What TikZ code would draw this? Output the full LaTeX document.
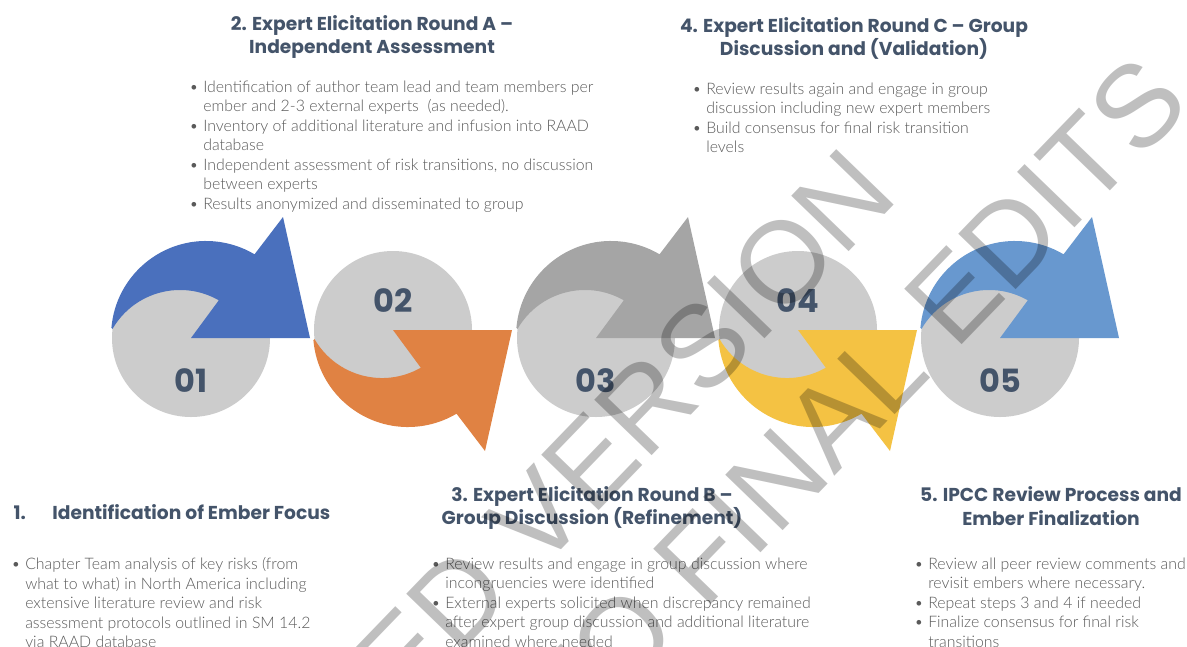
\documentclass[tikz,border=0pt]{standalone}
\usepackage{fontspec}
\usetikzlibrary{positioning}
\newfontfamily\headfont{Poppins}
\newfontfamily\bodyfont{Lato Light}
\newfontfamily\markfont{Liberation Sans}

\definecolor{discgray}{HTML}{CCCCCC}
\definecolor{ringblue}{HTML}{4A70BD}
\definecolor{ringorange}{HTML}{E08243}
\definecolor{ringgray}{HTML}{A5A5A5}
\definecolor{ringyellow}{HTML}{F4C243}
\definecolor{ringsky}{HTML}{6898CF}
\definecolor{heading}{HTML}{44546A}
\definecolor{bodytext}{HTML}{5A5A5A}

\newcommand{\bul}{\makebox[10.5pt][l]{\textbullet}}
\newcommand{\cont}{\hspace*{10.5pt}}
% ring arrow of one step, drawn round the disc centre (0,0)
\newcommand{\ringarrow}[1]{%
  \fill[#1] (-79.6,-10.3) arc[start angle=185, end angle=300.7, radius=95]
    -- (92,-121) -- (119,0) -- (0,0) -- (27.8,-37.7)
    arc[start angle=299.8, end angle=210.1, radius=78] -- cycle;}

\begin{document}
\begin{tikzpicture}[x=0.75pt,y=-0.75pt]
  \tikzstyle{head}=[font=\headfont\bfseries\fontsize{14}{17.6}\selectfont, text=heading, align=center]
  \tikzstyle{num}=[font=\headfont\bfseries\fontsize{24}{28}\selectfont, text=heading]
  \tikzstyle{list}=[font=\bodyfont\fontsize{11.9}{14.6}\selectfont, text=bodytext, align=left, anchor=north west, inner sep=0pt]
  \path[use as bounding box, fill=white] (0,0) rectangle (1187,646);

  % the five steps, the flipped ones wrap underneath
  \foreach \k/\cx/\cy/\flip/\col/\ny in {1/191/338/1/ringblue/43, 2/393/330/-1/ringorange/-29,
      3/596/338/1/ringgray/43, 4/798/330/-1/ringyellow/-29, 5/1000/338/1/ringsky/43}{
    \fill[discgray] (\cx,\cy) circle[radius=79];
    \begin{scope}[shift={(\cx,\cy)}, yscale=\flip]
      \ringarrow{\col}
    \end{scope}
    \node[num] (num\k) at (\cx,\cy+\ny) {0\k};
  }

  % step titles
  \node[head] (head2) at (372,37) {2. Expert Elicitation Round A –\\Independent Assessment};
  \node[head] (head4) at (854,38.5) {4. Expert Elicitation Round C – Group\\Discussion and (Validation)};
  \node[head, anchor=west] (head1) at (9,512) {\makebox[29pt][l]{1.}Identification of Ember Focus};
  \node[head] (head3) at (592,508) {3. Expert Elicitation Round B –\\Group Discussion (Refinement)};
  \node[head] (head5) at (1051,506) {5. IPCC Review Process and\\Ember Finalization};

  % bullet lists
  \node[list] (list2) at (189,80.5) {\bul Identification of author team lead and team members per\\
    \cont ember and 2-3 external experts\ \ (as needed).\\
    \bul Inventory of additional literature and infusion into RAAD\\
    \cont database\\
    \bul Independent assessment of risk transitions, no discussion\\
    \cont between experts\\
    \bul Results anonymized and disseminated to group};
  \node[list] (list4) at (692,82.5) {\bul Review results again and engage in group\\
    \cont discussion including new expert members\\
    \bul Build consensus for final risk transition\\
    \cont levels};
  \node[list] (list1) at (11,557.5) {\bul Chapter Team analysis of key risks (from\\
    \cont what to what) in North America including\\
    \cont extensive literature review and risk\\
    \cont assessment protocols outlined in SM 14.2\\
    \cont via RAAD database};
  \node[list] (list3) at (431,557.5) {\bul Review results and engage in group discussion where\\
    \cont incongruencies were identified\\
    \bul External experts solicited when discrepancy remained\\
    \cont after expert group discussion and additional literature\\
    \cont examined where needed};
  \node[list] (list5) at (914,557.5) {\bul Review all peer review comments and\\
    \cont revisit embers where necessary.\\
    \bul Repeat steps 3 and 4 if needed\\
    \bul Finalize consensus for final risk\\
    \cont transitions};

  % watermark over everything
  \node[font=\markfont\fontsize{87}{109.5}\selectfont, text=black, text opacity=0.25,
    align=left, rotate=46, anchor=west, inner sep=0pt] (mark) at (101,1074)
    {ACCEPTED VERSION\\SUBJECT TO FINAL EDITS};
\end{tikzpicture}
\end{document}
